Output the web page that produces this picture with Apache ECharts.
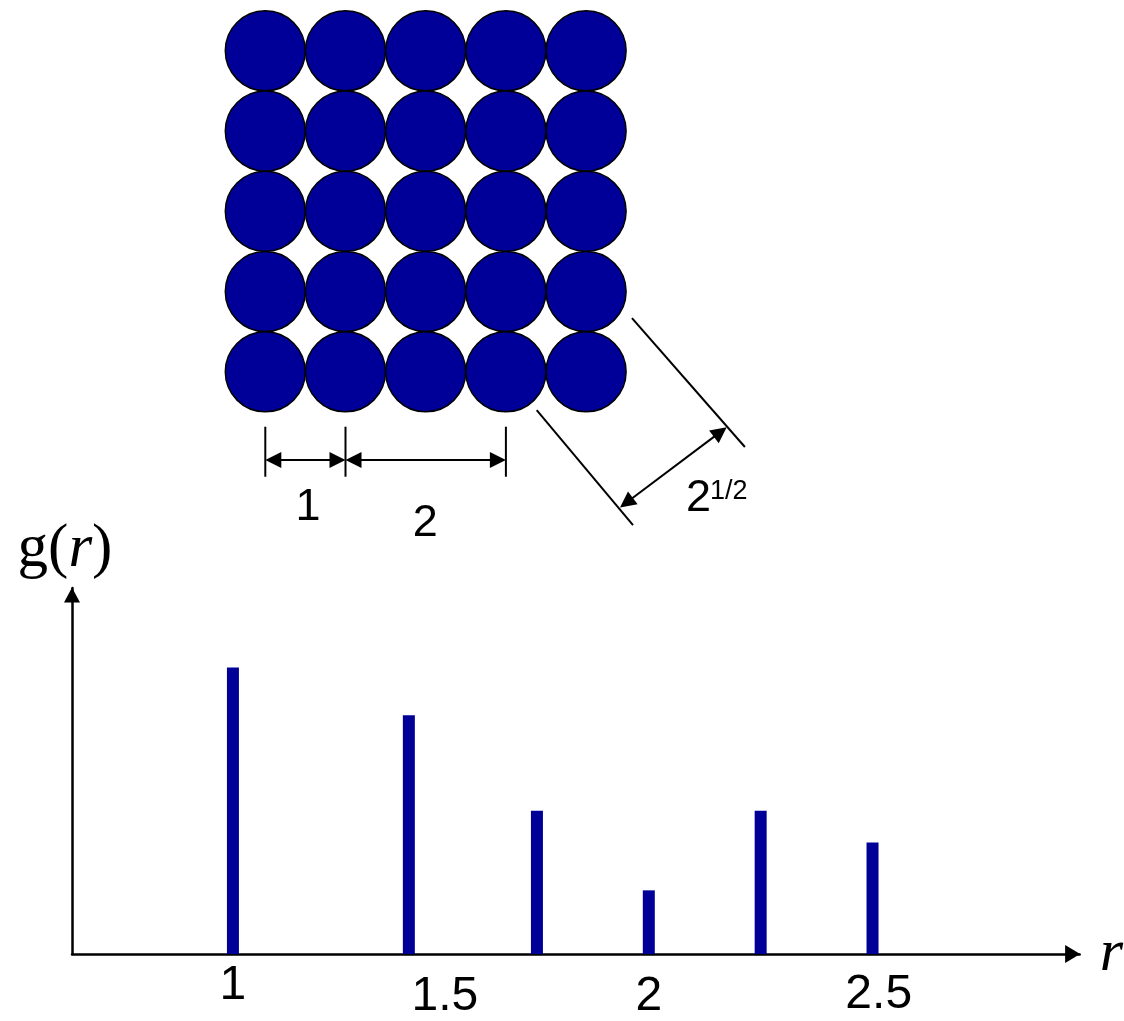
<!DOCTYPE html>
<html>
<head>
<meta charset="utf-8">
<script src="https://cdn.jsdelivr.net/npm/echarts@6/dist/echarts.min.js"></script>
<style>
html,body{margin:0;padding:0;background:#ffffff;}
#chart{width:1124px;height:1021px;}
</style>
</head>
<body>
<div id="chart"></div>
<script>
// ---------- Data ----------
// 5 x 5 square lattice (lattice units, column / row index)
const latticeCols = [0, 1, 2, 3, 4];
const latticeRows = [0, 1, 2, 3, 4];

// Radial distribution function (schematic): peak positions and heights
const rValues = [1, 1.423, 1.731, 2, 2.269, 2.538];
const gValues = [9, 7.5, 4.5, 2, 4.5, 3.5];

// x-axis tick labels
const tickValues = [1, 1.5, 2, 2.5];
const tickLabels = ['1', '1.5', '2', '2.5'];

// Dimension annotations on the lattice (lattice units): [x1, y1, x2, y2, arrowAtStart, arrowAtEnd]
const dimSegments = [
  [0, 4.684, 0, 5.307, 0, 0],
  [1, 4.684, 1, 5.307, 0, 0],
  [3, 4.684, 3, 5.307, 0, 0],
  [0, 5.10, 1, 5.10, 1, 1],
  [1, 5.10, 3, 5.10, 1, 1],
  [3.384, 4.476, 4.585, 5.909, 0, 0],
  [4.572, 3.330, 5.980, 4.937, 0, 0],
  [4.423, 5.690, 5.753, 4.690, 1, 1]
];
const dimLabelText = ['1', '2', '2'];
const dimLabelSup = ['', '', '1/2'];
const dimLabelPos = [[0.532, 5.697], [1.995, 5.890], [5.401, 5.579]];

// ---------- Chart ----------
const SANS = '"Liberation Sans", Arial, Helvetica, sans-serif';
const SERIF = '"Liberation Serif", "Times New Roman", serif';
const BLUE = '#000099';

const chart = echarts.init(document.getElementById('chart'), null, {renderer: 'canvas'});

const latticePoints = [];
latticeRows.forEach(function (r) {
  latticeCols.forEach(function (c) { latticePoints.push([c, r]); });
});
const barData = rValues.map(function (r, i) { return [r, gValues[i]]; });

const tickRich = {
  t0: {padding: [0, 0, 0, 0]},
  t1: {padding: [11, 0, 0, 8]},
  t2: {padding: [11, 0, 0, 0]},
  t3: {padding: [9, 0, 0, 44]}
};

function renderSegment(params, api) {
  const p1 = api.coord([api.value(0), api.value(1)]);
  const p2 = api.coord([api.value(2), api.value(3)]);
  const a1 = api.value(4), a2 = api.value(5);
  const dx = p2[0] - p1[0], dy = p2[1] - p1[1];
  const len = Math.sqrt(dx * dx + dy * dy);
  const ux = dx / len, uy = dy / len, px = -uy, py = ux;
  const L = 16, W = 8;
  let s = p1.slice(), e = p2.slice();
  if (a1) s = [p1[0] + ux * (L - 2), p1[1] + uy * (L - 2)];
  if (a2) e = [p2[0] - ux * (L - 2), p2[1] - uy * (L - 2)];
  const children = [{
    type: 'line',
    shape: {x1: s[0], y1: s[1], x2: e[0], y2: e[1]},
    style: {stroke: '#000', lineWidth: 2}
  }];
  function head(tip, sgn) {
    const bx = tip[0] - sgn * ux * L, by = tip[1] - sgn * uy * L;
    return {
      type: 'polygon',
      shape: {points: [[tip[0], tip[1]], [bx + px * W, by + py * W], [bx - px * W, by - py * W]]},
      style: {fill: '#000'}
    };
  }
  if (a1) children.push(head(p1, -1));
  if (a2) children.push(head(p2, 1));
  return {type: 'group', children: children};
}

function renderLabel(params, api) {
  const i = params.dataIndex;
  const p = api.coord([api.value(0), api.value(1)]);
  const children = [{
    type: 'text', x: p[0], y: p[1],
    style: {
      text: dimLabelText[i], fontSize: 45, fontFamily: SANS, fill: '#000',
      align: 'center', verticalAlign: 'middle', textAlign: 'center', textVerticalAlign: 'middle'
    }
  }];
  if (dimLabelSup[i]) {
    children.push({
      type: 'text', x: p[0] + 11.5, y: p[1] - 20,
      style: {
        text: dimLabelSup[i], fontSize: 27, fontFamily: SANS, fill: '#000',
        align: 'left', verticalAlign: 'top', textAlign: 'left', textVerticalAlign: 'top'
      }
    });
  }
  return {type: 'group', children: children};
}

const option = {
  animation: false,
  backgroundColor: '#ffffff',
  grid: [
    {left: 72, right: 44, top: 588, bottom: 66},
    {left: 225.2, top: 10.7, width: 561.4, height: 561.75}
  ],
  xAxis: [
    {
      gridIndex: 0, type: 'value', min: 0.61298, max: 3.03606,
      axisLine: {
        show: true, onZero: false,
        lineStyle: {color: '#000', width: 2.5},
        symbol: ['none', 'triangle'], symbolSize: [18, 15], symbolOffset: [0, -7]
      },
      axisTick: {show: false},
      splitLine: {show: false},
      axisLabel: {
        show: true, customValues: tickValues, margin: 8,
        fontSize: 48, fontFamily: SANS, color: '#000',
        formatter: function (v) {
          let i = 0, best = Infinity;
          tickValues.forEach(function (t, k) { if (Math.abs(t - v) < best) { best = Math.abs(t - v); i = k; } });
          return '{t' + i + '|' + tickLabels[i] + '}';
        },
        rich: tickRich
      },
      name: 'r', nameLocation: 'end', nameGap: 20,
      nameTextStyle: {fontFamily: SERIF, fontStyle: 'italic', fontSize: 60, color: '#000', padding: [0, 0, 36, 0]}
    },
    {gridIndex: 1, type: 'value', min: -0.5, max: 6.5, show: false}
  ],
  yAxis: [
    {
      gridIndex: 0, type: 'value', min: 0, max: 11.5,
      axisLine: {
        show: true, onZero: false,
        lineStyle: {color: '#000', width: 2.5},
        symbol: ['none', 'triangle'], symbolSize: [16, 15], symbolOffset: [0, -7]
      },
      axisTick: {show: false},
      axisLabel: {show: false},
      splitLine: {show: false},
      name: 'g({i|r})', nameLocation: 'end', nameGap: 8,
      nameTextStyle: {
        fontFamily: SERIF, fontSize: 61, color: '#000', padding: [0, 14, 0, 0],
        rich: {i: {fontFamily: SERIF, fontSize: 61, fontStyle: 'italic', color: '#000'}}
      }
    },
    {gridIndex: 1, type: 'value', min: -0.5, max: 6.5, inverse: true, show: false}
  ],
  series: [
    {
      name: 'g(r)', type: 'bar', xAxisIndex: 0, yAxisIndex: 0,
      data: barData, barWidth: 12,
      itemStyle: {color: BLUE},
      silent: true
    },
    {
      name: 'lattice', type: 'scatter', xAxisIndex: 1, yAxisIndex: 1,
      data: latticePoints, symbol: 'circle', symbolSize: 80,
      itemStyle: {color: BLUE, borderColor: '#000', borderWidth: 1.5, opacity: 1},
      silent: true
    },
    {
      name: 'dimensions', type: 'custom', coordinateSystem: 'cartesian2d',
      xAxisIndex: 1, yAxisIndex: 1, data: dimSegments,
      encode: {x: [0, 2], y: [1, 3]},
      renderItem: renderSegment, silent: true, z: 5
    },
    {
      name: 'dimension labels', type: 'custom', coordinateSystem: 'cartesian2d',
      xAxisIndex: 1, yAxisIndex: 1, data: dimLabelPos,
      encode: {x: 0, y: 1},
      renderItem: renderLabel, silent: true, z: 6
    }
  ]
};
chart.setOption(option);
</script>
</body>
</html>
